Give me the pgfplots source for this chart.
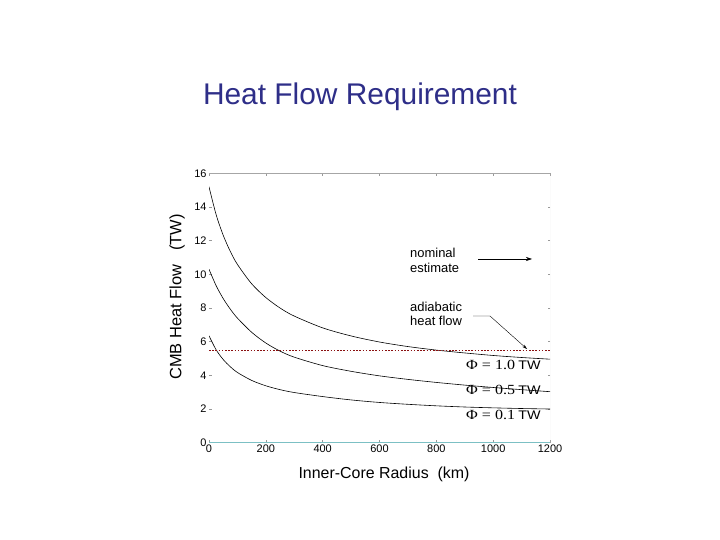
\documentclass[border=0pt]{standalone}
\usepackage{fontspec}
\setmainfont{Liberation Sans}
\newfontfamily\serif{Liberation Serif}
\usepackage{pgfplots}
\pgfplotsset{compat=1.18}
\usetikzlibrary{arrows.meta}
\definecolor{titleblue}{HTML}{2E2E88}
\definecolor{adiab}{HTML}{8A1010}
\definecolor{baseaxis}{HTML}{7CC0C4}
\begin{document}
\begin{tikzpicture}
\path[use as bounding box, fill=white] (0bp,0bp) rectangle (720bp,540bp);
\begin{axis}[
	at={(209bp,97.3bp)}, anchor=south west,
	scale only axis,
	width=341bp, height=269.4bp,
	xmin=0, xmax=1200,
	ymin=0, ymax=16,
	xtick={0,200,...,1200},
	ytick={0,2,...,16},
	axis line style={draw=none},
	tick align=inside,
	major tick length=2.5bp,
	tick style={gray!80, line width=0.6pt},
	xticklabel style={font=\fontsize{11}{13}\selectfont, yshift=1.5bp},
	yticklabel style={font=\fontsize{11}{13}\selectfont, xshift=1bp},
	/pgf/number format/assume math mode=true,
	/pgf/number format/1000 sep={},
]
% frame: gray top, faint right, teal bottom
\draw[gray!70, line width=0.6pt] (axis cs:0,16) -- (axis cs:1200,16);
\draw[gray!20, line width=0.5pt] (axis cs:1200,0) -- (axis cs:1200,16);
\draw[baseaxis, line width=0.8pt] (axis cs:0,0) -- (axis cs:1200,0);
% Phi = 1.0 TW
\addplot[black, line width=0.6pt, smooth] coordinates {
	(0,15.2) (25,13.55) (50,12.32) (75,11.36) (100,10.59) (150,9.44)
	(200,8.62) (250,8.0) (300,7.52) (400,6.82) (500,6.34) (600,5.98)
	(700,5.71) (800,5.50) (900,5.33) (1000,5.18) (1100,5.06) (1200,4.96)
};
% Phi = 0.5 TW
\addplot[black, line width=0.6pt, smooth] coordinates {
	(0,10.3) (25,9.33) (50,8.56) (75,7.93) (100,7.4) (150,6.56)
	(200,5.92) (250,5.44) (300,5.08) (400,4.58) (500,4.24) (600,3.97)
	(700,3.76) (800,3.58) (900,3.42) (1000,3.28) (1100,3.15) (1200,3.03)
};
% Phi = 0.1 TW
\addplot[black, line width=0.6pt, smooth] coordinates {
	(0,6.35) (25,5.52) (50,4.94) (75,4.51) (100,4.17) (150,3.70)
	(200,3.38) (250,3.15) (300,2.98) (400,2.74) (500,2.54) (600,2.39)
	(700,2.28) (800,2.19) (900,2.12) (1000,2.07) (1100,2.03) (1200,2.0)
};
% adiabatic heat flow
\addplot[adiab, line width=1.7pt, dash pattern=on 1.6bp off 1.6bp] coordinates {
	(0,5.47) (1200,5.47)
};
\end{axis}
% title and axis labels
\node[titleblue, anchor=base, font=\fontsize{30}{34}\selectfont] at (360bp,435bp) {Heat Flow Requirement};
\node[anchor=base, font=\fontsize{16}{18}\selectfont] at (384bp,61bp) {Inner-Core Radius\ \ (km)};
\node[font=\fontsize{16.5}{18}\selectfont, rotate=90] at (177bp,243bp) {CMB Heat Flow\ \ \ (TW)};
% annotations
\begin{scope}[every node/.style={anchor=base west, inner sep=0pt, font=\fontsize{13}{15}\selectfont}]
\node at (410bp,282bp) {nominal};
\node at (410bp,267bp) {estimate};
\node at (410bp,228bp) {adiabatic};
\node at (410bp,214bp) {heat flow};
\end{scope}
\draw[-{Stealth[length=6bp,width=4bp]}, line width=0.6pt] (478bp,281bp) -- (532bp,281bp);
\draw[-{Stealth[length=5bp,width=3bp]}, line width=0.4pt] (473bp,224bp) -- (490bp,224bp) -- (527bp,191bp);
\begin{scope}[every node/.style={anchor=base west, inner sep=0pt, xscale=1.15}]
\node at (466bp,170.7bp) {{\serif\fontsize{14}{16}\selectfont Φ = 1.0} {\fontsize{12.5}{14}\selectfont TW}};
\node at (466bp,145bp) {{\serif\fontsize{14}{16}\selectfont Φ = 0.5} {\fontsize{12.5}{14}\selectfont TW}};
\node at (466bp,120bp) {{\serif\fontsize{14}{16}\selectfont Φ = 0.1} {\fontsize{12.5}{14}\selectfont TW}};
\end{scope}
\end{tikzpicture}
\end{document}
